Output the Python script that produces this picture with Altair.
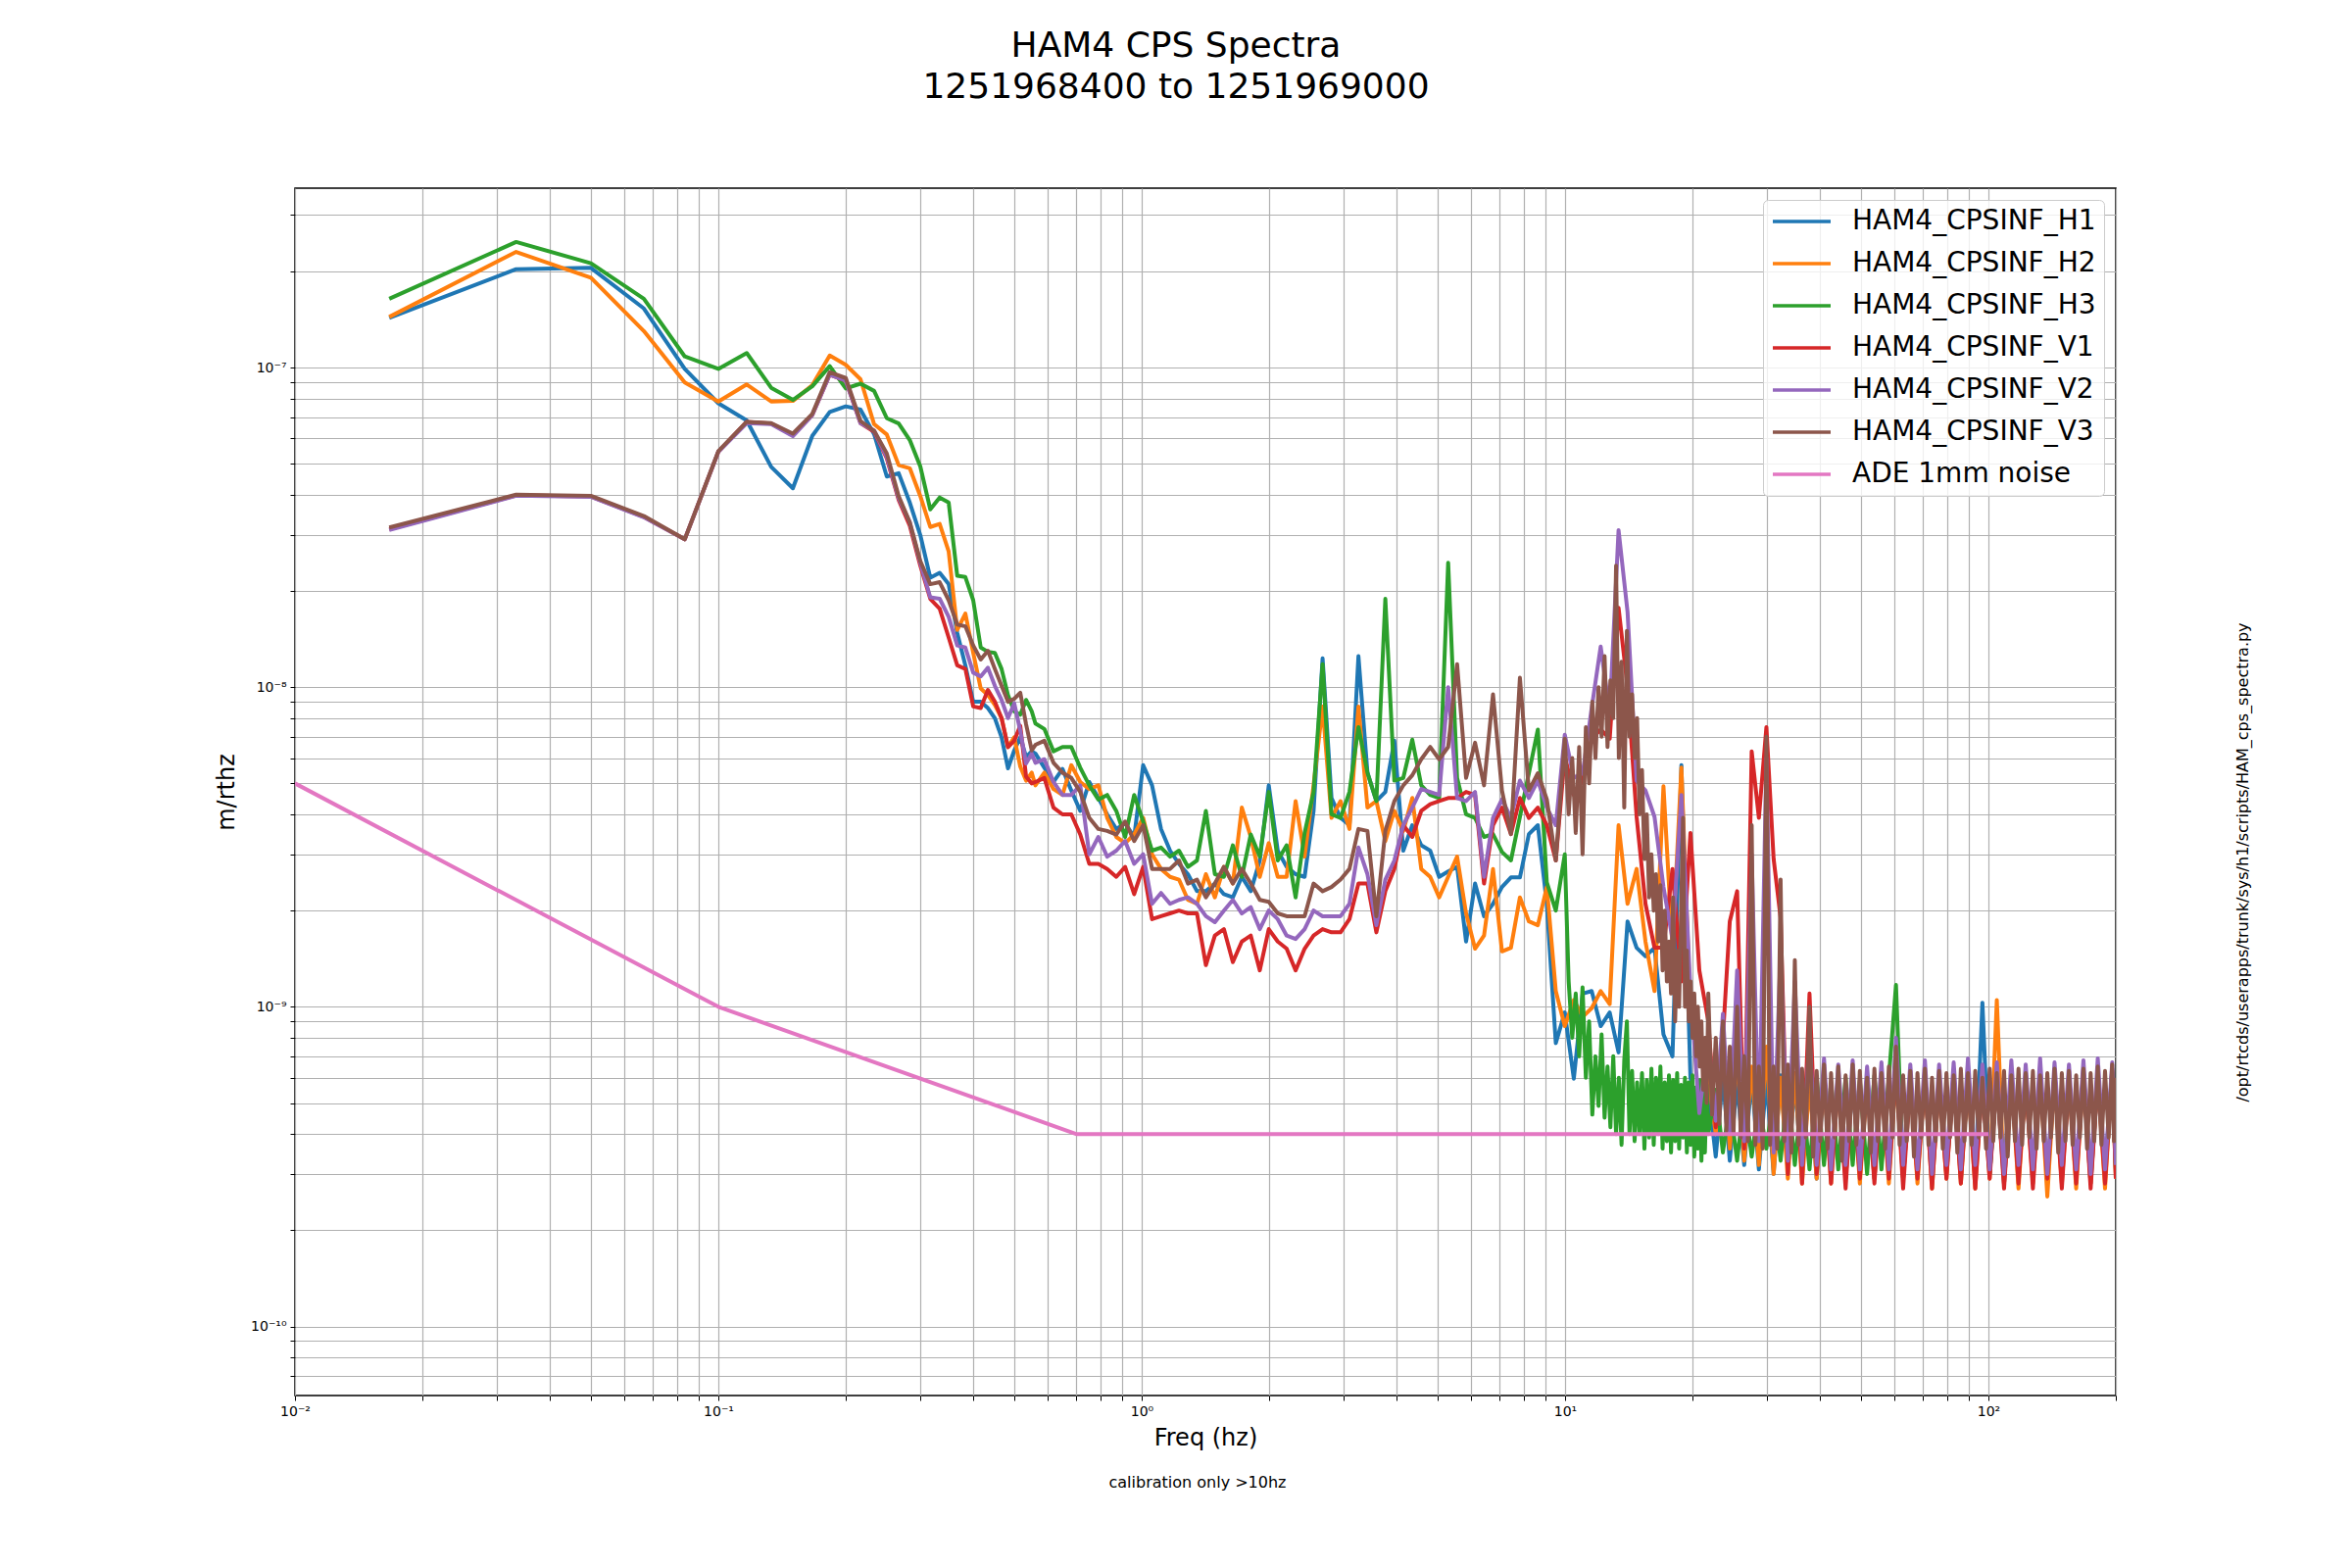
import altair as alt
import pandas as pd

TITLE_LINES = ["HAM4 CPS Spectra", "1251968400 to 1251969000"]
X_TITLE = "Freq (hz)"
Y_TITLE = "m/rthz"
CAL_NOTE = "calibration only >10hz"
SCRIPT_PATH = "/opt/rtcds/userapps/trunk/sys/h1/scripts/HAM_cps_spectra.py"

NAMES = ["HAM4_CPSINF_H1", "HAM4_CPSINF_H2", "HAM4_CPSINF_H3",
         "HAM4_CPSINF_V1", "HAM4_CPSINF_V2", "HAM4_CPSINF_V3", "ADE 1mm noise"]
COLORS = ["#1f77b4", "#ff7f0e", "#2ca02c", "#d62728", "#9467bd", "#8c564b", "#e377c2"]

# ---------------- frequency grids (Hz) ----------------
LOW_F = [0.0167, 0.0333, 0.05, 0.0667, 0.0833, 0.1, 0.1167, 0.1333, 0.15, 0.1667,
         0.1833, 0.2, 0.2167, 0.2333, 0.25, 0.2667, 0.2833, 0.3, 0.3167, 0.3333,
         0.35, 0.3667, 0.3833, 0.4, 0.4167, 0.4333, 0.45, 0.4667, 0.4833, 0.5,
         0.5167, 0.5333, 0.55]
MID_F = [0.561, 0.589, 0.619, 0.650, 0.682, 0.716, 0.752, 0.790, 0.829, 0.871,
         0.914, 0.960, 1.008, 1.058, 1.111, 1.167, 1.225, 1.286, 1.351, 1.418,
         1.489, 1.564, 1.642, 1.724, 1.810, 1.901, 1.996, 2.096, 2.200, 2.310,
         2.426, 2.547, 2.675, 2.808, 2.949, 3.096, 3.251, 3.414, 3.584, 3.763,
         3.952, 4.149, 4.357, 4.575, 4.803, 5.043, 5.296, 5.560, 5.838, 6.130,
         6.437, 6.759, 7.097, 7.451, 7.824, 8.215, 8.626, 9.057, 9.510, 9.986,
         10.49, 11.01, 11.56, 12.14, 12.75, 13.38, 14.05, 14.76, 15.49, 16.27,
         17.08, 17.94, 18.83, 19.78, 20.76]
# finer grid used for the dense green and brown bands between 10 and 21.6 Hz
FINE_F = [10.2, 10.4, 10.6, 10.8, 11.0, 11.2, 11.4, 11.6, 11.8, 12.0,
          12.2, 12.4, 12.6, 12.8, 13.0, 13.2, 13.4, 13.6, 13.8, 14.0,
          14.2, 14.4, 14.6, 14.8, 15.0, 15.2, 15.4, 15.6, 15.8, 16.0,
          16.2, 16.4, 16.6, 16.8, 17.0, 17.2, 17.4, 17.6, 17.8, 18.0,
          18.2, 18.4, 18.6, 18.8, 19.0, 19.2, 19.4, 19.6, 19.8, 20.0,
          20.2, 20.4, 20.6, 20.8, 21.0, 21.2, 21.4, 21.6]
HF_F = [21.8, 22.7, 23.6, 24.5, 25.5, 26.5, 27.6, 28.7, 29.9, 31.1,
        32.3, 33.6, 34.9, 36.3, 37.8, 39.3, 40.9, 42.5, 44.2, 46.0,
        47.8, 49.7, 51.7, 53.8, 55.9, 58.2, 60.5, 62.9, 65.4, 68.0,
        70.8, 73.6, 76.5, 79.6, 82.8, 86.1, 89.5, 93.1, 96.8, 100.7,
        104.7, 108.9, 113.3, 117.8, 122.5, 127.4, 132.5, 137.8, 143.3, 149.1,
        155.0, 161.2, 167.7, 174.4, 181.3, 188.6, 196.1, 200.0]
V3_HF_F = [21.8, 22.25, 22.7, 23.15, 23.6, 24.05, 24.5, 25.0, 25.5, 26.0,
           26.5, 27.05, 27.6, 28.15, 28.7, 29.3, 29.9, 30.5, 31.1, 31.7,
           32.3, 32.95, 33.6, 34.25, 34.9, 35.6, 36.3, 37.05, 37.8, 38.55,
           39.3, 40.1, 40.9, 41.7, 42.5, 43.35, 44.2, 45.1, 46.0, 46.9,
           47.8, 48.75, 49.7, 50.7, 51.7, 52.75, 53.8, 54.85, 55.9, 57.05,
           58.2, 59.35, 60.5, 61.7, 62.9, 64.15, 65.4, 66.7, 68.0, 69.4,
           70.8, 72.2, 73.6, 75.05, 76.5, 78.05, 79.6, 81.2, 82.8, 84.45,
           86.1, 87.8, 89.5, 91.3, 93.1, 94.95, 96.8, 98.75, 100.7, 102.7,
           104.7, 106.8, 108.9, 111.1, 113.3, 115.55, 117.8, 120.15, 122.5, 124.95,
           127.4, 129.95, 132.5, 135.15, 137.8, 140.55, 143.3, 146.2, 149.1, 152.05,
           155.0, 158.1, 161.2, 164.45, 167.7, 171.05, 174.4, 177.85, 181.3, 184.95,
           188.6, 192.35, 196.1, 198.0, 200.0]

# ---------------- H1 (blue) ----------------
H1_LOW = [1.43e-7, 2.03e-7, 2.05e-7, 1.53e-7, 9.9e-8, 7.73e-8, 6.83e-8, 4.89e-8, 4.19e-8, 6.11e-8,
          7.26e-8, 7.56e-8, 7.38e-8, 6.19e-8, 4.56e-8, 4.67e-8, 3.78e-8, 2.99e-8, 2.2e-8, 2.28e-8,
          2.1e-8, 1.48e-8, 1.17e-8, 9.0e-9, 9.0e-9, 8.6e-9, 8.0e-9, 6.97e-9, 5.57e-9, 6.34e-9,
          6.97e-9, 6.05e-9, 6.3e-9]
H1_MID = [6.2e-9, 5.6e-9, 5.05e-9, 5.55e-9, 4.75e-9, 4.1e-9, 5.05e-9, 4.5e-9, 4.0e-9, 3.6e-9,
          3.75e-9, 3.4e-9, 5.7e-9, 4.93e-9, 3.6e-9, 3.08e-9, 2.8e-9, 2.6e-9, 2.3e-9, 2.3e-9,
          2.43e-9, 2.25e-9, 2.2e-9, 2.55e-9, 2.3e-9, 2.87e-9, 4.93e-9, 3.08e-9, 2.74e-9, 2.6e-9,
          2.55e-9, 4.1e-9, 1.23e-8, 4.5e-9, 3.9e-9, 3.7e-9, 1.25e-8, 5.4e-9, 4.4e-9, 4.7e-9,
          6.8e-9, 3.08e-9, 3.7e-9, 3.2e-9, 3.08e-9, 2.55e-9, 2.65e-9, 2.74e-9, 1.6e-9, 2.43e-9,
          1.92e-9, 2.1e-9, 2.37e-9, 2.54e-9, 2.54e-9, 3.47e-9, 3.7e-9, 2.1e-9, 7.7e-10, 9.6e-10,
          5.96e-10, 1.1e-9, 1.12e-9, 8.7e-10, 9.6e-10, 7.2e-10, 1.85e-9, 1.53e-9, 1.44e-9, 1.53e-9,
          8.2e-10, 7.0e-10, 5.7e-9, 6.0e-10, 4.36e-10]
H1_HF = [5.5e-10, 3.4e-10, 6.0e-10, 3.3e-10, 5.8e-10, 3.2e-10, 6.0e-10, 3.1e-10, 5.9e-10, 3.0e-10,
         6.1e-10, 3.1e-10, 5.8e-10, 3.0e-10, 6.0e-10, 2.9e-10, 5.9e-10, 3.0e-10, 6.1e-10, 2.9e-10,
         5.8e-10, 3.0e-10, 6.0e-10, 2.9e-10, 6.1e-10, 3.0e-10, 6.2e-10, 2.9e-10, 5.9e-10, 3.0e-10,
         6.0e-10, 2.8e-10, 5.9e-10, 3.0e-10, 6.1e-10, 2.9e-10, 6.0e-10, 2.9e-10, 1.03e-9, 3.0e-10,
         6.0e-10, 2.8e-10, 6.1e-10, 3.0e-10, 5.9e-10, 2.9e-10, 6.2e-10, 2.8e-10, 6.0e-10, 3.0e-10,
         5.9e-10, 2.9e-10, 6.3e-10, 2.8e-10, 6.0e-10, 3.0e-10, 6.4e-10, 3.0e-10]

# ---------------- H2 (orange) ----------------
H2_LOW = [1.44e-7, 2.30e-7, 1.91e-7, 1.30e-7, 8.98e-8, 7.83e-8, 8.85e-8, 7.83e-8, 7.86e-8, 8.8e-8,
          1.09e-7, 1.02e-7, 9.19e-8, 6.65e-8, 6.17e-8, 4.95e-8, 4.84e-8, 3.96e-8, 3.17e-8, 3.24e-8,
          2.66e-8, 1.51e-8, 1.70e-8, 1.28e-8, 9.9e-9, 9.45e-9, 8.8e-9, 8.0e-9, 6.49e-9, 6.97e-9,
          5.64e-9, 5.1e-9, 5.4e-9]
H2_MID = [4.93e-9, 5.4e-9, 4.8e-9, 4.6e-9, 5.7e-9, 5.05e-9, 4.8e-9, 4.93e-9, 3.9e-9, 3.4e-9,
          3.25e-9, 3.46e-9, 3.9e-9, 3.0e-9, 2.7e-9, 2.55e-9, 2.5e-9, 2.16e-9, 2.1e-9, 2.6e-9,
          2.2e-9, 2.74e-9, 2.43e-9, 4.2e-9, 3.4e-9, 2.55e-9, 3.25e-9, 2.55e-9, 2.55e-9, 4.4e-9,
          2.95e-9, 4.93e-9, 8.7e-9, 3.9e-9, 4.4e-9, 3.6e-9, 8.7e-9, 4.2e-9, 4.4e-9, 3.3e-9,
          4.1e-9, 3.55e-9, 4.5e-9, 2.7e-9, 2.55e-9, 2.2e-9, 2.55e-9, 2.95e-9, 1.96e-9, 1.52e-9,
          1.67e-9, 2.7e-9, 1.49e-9, 1.53e-9, 2.2e-9, 1.85e-9, 1.8e-9, 2.37e-9, 1.12e-9, 8.7e-10,
          1.05e-9, 9.3e-10, 9.9e-10, 1.12e-9, 1.02e-9, 3.7e-9, 2.1e-9, 2.7e-9, 1.6e-9, 1.12e-9,
          4.9e-9, 1.53e-9, 5.6e-9, 9.6e-10, 7.0e-10]
H2_HF = [6.0e-10, 4.0e-10, 8.5e-10, 3.6e-10, 7.0e-10, 3.3e-10, 6.5e-10, 3.2e-10, 7.5e-10, 3.0e-10,
         6.0e-10, 2.9e-10, 6.2e-10, 2.8e-10, 5.8e-10, 2.9e-10, 6.0e-10, 2.8e-10, 5.9e-10, 2.9e-10,
         6.1e-10, 2.8e-10, 5.8e-10, 2.9e-10, 6.0e-10, 2.8e-10, 6.2e-10, 2.9e-10, 5.9e-10, 2.8e-10,
         6.0e-10, 2.7e-10, 5.8e-10, 2.9e-10, 6.1e-10, 2.8e-10, 5.9e-10, 2.7e-10, 6.0e-10, 2.9e-10,
         1.05e-9, 2.8e-10, 6.0e-10, 2.7e-10, 5.9e-10, 2.8e-10, 6.1e-10, 2.55e-10, 6.0e-10, 2.8e-10,
         5.9e-10, 2.7e-10, 6.2e-10, 2.8e-10, 6.0e-10, 2.7e-10, 6.3e-10, 2.9e-10]

# ---------------- H3 (green) ----------------
H3_LOW = [1.64e-7, 2.47e-7, 2.12e-7, 1.64e-7, 1.083e-7, 9.9e-8, 1.11e-7, 8.64e-8, 7.92e-8, 8.74e-8,
          1.01e-7, 8.6e-8, 8.9e-8, 8.45e-8, 6.94e-8, 6.68e-8, 5.93e-8, 4.9e-8, 3.6e-8, 3.92e-8,
          3.78e-8, 2.23e-8, 2.21e-8, 1.87e-8, 1.33e-8, 1.29e-8, 1.28e-8, 1.14e-8, 9.45e-9, 8.4e-9,
          8.2e-9, 9.12e-9, 8.4e-9]
H3_MID = [7.7e-9, 7.4e-9, 6.3e-9, 6.5e-9, 6.5e-9, 5.6e-9, 4.93e-9, 4.45e-9, 4.6e-9, 4.1e-9,
          3.4e-9, 4.6e-9, 3.8e-9, 3.08e-9, 3.15e-9, 2.95e-9, 3.08e-9, 2.74e-9, 2.87e-9, 4.1e-9,
          2.6e-9, 2.55e-9, 3.2e-9, 2.55e-9, 3.46e-9, 2.95e-9, 4.7e-9, 2.87e-9, 3.2e-9, 2.2e-9,
          3.5e-9, 4.7e-9, 1.18e-8, 4.0e-9, 3.9e-9, 4.7e-9, 7.5e-9, 5.4e-9, 4.4e-9, 1.89e-8,
          5.1e-9, 5.2e-9, 6.85e-9, 4.93e-9, 4.6e-9, 4.5e-9, 2.45e-8, 5.2e-9, 4.0e-9, 3.9e-9,
          3.4e-9, 3.47e-9, 3.05e-9, 2.87e-9, 3.93e-9, 5.38e-9, 7.37e-9, 2.45e-9, 2.0e-9, 3.0e-9]
H3_FINE = [1.2e-9, 8.0e-10, 1.1e-9, 7.0e-10, 1.15e-9, 6.0e-10, 9.0e-10, 4.6e-10, 7.0e-10, 4.9e-10,
           8.2e-10, 4.5e-10, 6.5e-10, 4.2e-10, 7.0e-10, 4.0e-10, 6.0e-10, 3.7e-10, 6.8e-10, 9.0e-10,
           4.0e-10, 6.3e-10, 3.8e-10, 5.8e-10, 4.0e-10, 6.2e-10, 3.6e-10, 5.9e-10, 3.9e-10, 6.4e-10,
           3.7e-10, 6.0e-10, 4.0e-10, 6.5e-10, 3.6e-10, 5.8e-10, 3.8e-10, 6.1e-10, 3.5e-10, 5.9e-10,
           3.8e-10, 6.2e-10, 3.6e-10, 5.7e-10, 3.9e-10, 6.0e-10, 3.5e-10, 5.8e-10, 3.7e-10, 6.1e-10,
           3.4e-10, 5.6e-10, 3.6e-10, 5.9e-10, 3.3e-10, 5.5e-10, 3.5e-10, 5.7e-10]
H3_HF = [4.0e-10, 5.5e-10, 3.5e-10, 5.0e-10, 3.3e-10, 5.2e-10, 3.4e-10, 5.0e-10, 3.6e-10, 5.3e-10,
         3.3e-10, 5.6e-10, 3.2e-10, 5.5e-10, 3.1e-10, 6.0e-10, 3.2e-10, 5.8e-10, 3.1e-10, 6.0e-10,
         3.2e-10, 5.9e-10, 3.0e-10, 6.1e-10, 3.1e-10, 6.0e-10, 1.17e-9, 3.0e-10, 5.9e-10, 3.1e-10,
         6.0e-10, 3.0e-10, 5.9e-10, 3.1e-10, 6.1e-10, 3.0e-10, 5.8e-10, 3.1e-10, 6.0e-10, 3.0e-10,
         5.9e-10, 3.1e-10, 6.1e-10, 3.0e-10, 5.8e-10, 3.1e-10, 6.0e-10, 3.0e-10, 6.2e-10, 3.1e-10,
         5.9e-10, 3.0e-10, 6.1e-10, 3.1e-10, 6.0e-10, 3.0e-10, 6.2e-10, 3.1e-10]

# ---------------- V1 (red) ----------------
V1_LOW = [3.12e-8, 3.98e-8, 3.95e-8, 3.41e-8, 2.9e-8, 5.45e-8, 6.76e-8, 6.68e-8, 6.15e-8, 7.1e-8,
          9.5e-8, 9.1e-8, 6.7e-8, 6.3e-8, 5.2e-8, 3.85e-8, 3.2e-8, 2.4e-8, 1.89e-8, 1.76e-8,
          1.43e-8, 1.17e-8, 1.14e-8, 8.7e-9, 8.6e-9, 9.8e-9, 9.0e-9, 8.0e-9, 6.49e-9, 6.8e-9,
          7.57e-9, 5.25e-9, 5.0e-9]
V1_MID = [5.05e-9, 5.2e-9, 4.2e-9, 4.0e-9, 4.0e-9, 3.46e-9, 2.8e-9, 2.8e-9, 2.7e-9, 2.55e-9,
          2.74e-9, 2.25e-9, 2.74e-9, 1.88e-9, 1.92e-9, 1.96e-9, 2.0e-9, 1.96e-9, 1.96e-9, 1.35e-9,
          1.67e-9, 1.75e-9, 1.38e-9, 1.6e-9, 1.67e-9, 1.3e-9, 1.75e-9, 1.6e-9, 1.52e-9, 1.3e-9,
          1.52e-9, 1.67e-9, 1.75e-9, 1.71e-9, 1.71e-9, 1.88e-9, 2.43e-9, 2.43e-9, 1.71e-9, 2.3e-9,
          2.7e-9, 3.7e-9, 3.4e-9, 4.1e-9, 4.3e-9, 4.4e-9, 4.5e-9, 4.5e-9, 4.7e-9, 4.6e-9,
          2.43e-9, 3.7e-9, 4.2e-9, 3.47e-9, 4.5e-9, 3.9e-9, 4.2e-9, 3.7e-9, 2.87e-9, 6.1e-9,
          4.6e-9, 5.1e-9, 6.9e-9, 7.37e-9, 6.9e-9, 1.77e-8, 1.0e-8, 3.93e-9, 2.1e-9, 1.53e-9,
          1.53e-9, 2.7e-9, 1.2e-9, 3.5e-9, 1.3e-9]
V1_HF = [9.0e-10, 4.2e-10, 8.0e-10, 1.85e-9, 2.3e-9, 3.6e-10, 6.3e-9, 3.9e-9, 7.5e-9, 2.9e-9,
         1.9e-9, 3.0e-10, 9.0e-10, 2.8e-10, 1.1e-9, 3.0e-10, 6.2e-10, 2.8e-10, 6.0e-10, 2.7e-10,
         6.1e-10, 2.9e-10, 5.9e-10, 2.8e-10, 6.0e-10, 2.9e-10, 6.4e-10, 2.7e-10, 5.8e-10, 2.9e-10,
         6.0e-10, 2.7e-10, 5.9e-10, 2.9e-10, 6.0e-10, 2.8e-10, 6.1e-10, 2.7e-10, 5.8e-10, 2.9e-10,
         6.0e-10, 2.7e-10, 6.1e-10, 2.8e-10, 5.9e-10, 2.7e-10, 6.0e-10, 2.9e-10, 6.1e-10, 2.7e-10,
         5.9e-10, 2.8e-10, 6.2e-10, 2.7e-10, 6.0e-10, 2.8e-10, 6.3e-10, 2.9e-10]

# ---------------- V2 (purple) ----------------
V2_LOW = [3.1e-8, 3.97e-8, 3.94e-8, 3.4e-8, 2.9e-8, 5.45e-8, 6.7e-8, 6.65e-8, 6.1e-8, 7.1e-8,
          9.5e-8, 9.1e-8, 6.7e-8, 6.35e-8, 5.25e-8, 3.9e-8, 3.28e-8, 2.45e-8, 1.91e-8, 1.89e-8,
          1.66e-8, 1.35e-8, 1.33e-8, 1.11e-8, 1.08e-8, 1.15e-8, 1.01e-8, 9.12e-9, 8.0e-9, 8.9e-9,
          7.3e-9, 5.77e-9, 6.2e-9]
V2_MID = [5.8e-9, 5.95e-9, 5.05e-9, 4.6e-9, 4.6e-9, 4.93e-9, 3.0e-9, 3.4e-9, 2.95e-9, 3.08e-9,
          3.3e-9, 2.8e-9, 3.0e-9, 2.1e-9, 2.27e-9, 2.1e-9, 2.16e-9, 2.2e-9, 2.1e-9, 1.92e-9,
          1.84e-9, 2.0e-9, 2.16e-9, 1.96e-9, 2.05e-9, 1.75e-9, 2.0e-9, 1.88e-9, 1.67e-9, 1.63e-9,
          1.75e-9, 2.0e-9, 1.92e-9, 1.92e-9, 1.92e-9, 2.1e-9, 3.15e-9, 2.6e-9, 1.8e-9, 2.5e-9,
          2.87e-9, 3.7e-9, 4.2e-9, 4.8e-9, 4.7e-9, 4.6e-9, 1.0e-8, 4.5e-9, 4.4e-9, 4.7e-9,
          2.55e-9, 3.9e-9, 4.46e-9, 3.9e-9, 5.1e-9, 4.5e-9, 5.1e-9, 4.2e-9, 3.7e-9, 7.1e-9,
          5.2e-9, 5.38e-9, 8.6e-9, 1.34e-8, 8.3e-9, 3.1e-8, 1.72e-8, 5.1e-9, 4.75e-9, 3.93e-9,
          2.37e-9, 1.63e-9, 4.6e-9, 1.12e-9, 4.65e-10]
V2_HF = [8.0e-10, 4.4e-10, 9.5e-10, 4.0e-10, 1.3e-9, 3.8e-10, 3.0e-9, 3.8e-10, 6.0e-9, 3.5e-10,
         1.5e-9, 3.3e-10, 1.2e-9, 3.2e-10, 8.0e-10, 3.2e-10, 6.9e-10, 3.1e-10, 6.6e-10, 3.2e-10,
         6.8e-10, 3.1e-10, 6.5e-10, 3.2e-10, 6.7e-10, 3.1e-10, 8.0e-10, 3.2e-10, 6.6e-10, 3.1e-10,
         6.8e-10, 3.0e-10, 6.6e-10, 3.2e-10, 6.7e-10, 3.1e-10, 6.9e-10, 3.2e-10, 6.6e-10, 3.1e-10,
         6.7e-10, 3.0e-10, 6.8e-10, 3.2e-10, 6.6e-10, 3.1e-10, 6.9e-10, 3.0e-10, 6.7e-10, 3.2e-10,
         6.6e-10, 3.1e-10, 6.8e-10, 3.0e-10, 6.9e-10, 3.1e-10, 6.7e-10, 3.2e-10]

# ---------------- V3 (brown) ----------------
V3_LOW = [3.16e-8, 4.0e-8, 3.97e-8, 3.43e-8, 2.9e-8, 5.47e-8, 6.76e-8, 6.7e-8, 6.21e-8, 7.16e-8,
          9.67e-8, 9.27e-8, 6.8e-8, 6.34e-8, 5.38e-8, 3.96e-8, 3.28e-8, 2.48e-8, 2.1e-8, 2.13e-8,
          1.87e-8, 1.57e-8, 1.55e-8, 1.35e-8, 1.22e-8, 1.3e-8, 1.14e-8, 1.01e-8, 9.0e-9, 9.2e-9,
          9.6e-9, 7.65e-9, 6.34e-9]
V3_MID = [6.6e-9, 6.8e-9, 5.8e-9, 5.4e-9, 5.2e-9, 4.7e-9, 3.9e-9, 3.6e-9, 3.55e-9, 3.46e-9,
          3.8e-9, 3.3e-9, 3.7e-9, 2.7e-9, 2.7e-9, 2.7e-9, 2.87e-9, 2.43e-9, 2.5e-9, 2.2e-9,
          2.43e-9, 2.74e-9, 2.43e-9, 2.7e-9, 2.43e-9, 2.16e-9, 2.13e-9, 1.96e-9, 1.92e-9, 1.92e-9,
          1.92e-9, 2.43e-9, 2.3e-9, 2.37e-9, 2.5e-9, 2.7e-9, 3.6e-9, 3.55e-9, 1.92e-9, 3.55e-9,
          4.4e-9, 4.93e-9, 5.3e-9, 5.95e-9, 6.5e-9, 5.95e-9, 6.5e-9, 1.18e-8, 5.2e-9, 6.7e-9,
          4.93e-9, 9.5e-9, 4.75e-9, 3.47e-9, 1.07e-8, 4.75e-9, 5.38e-9, 4.46e-9, 2.87e-9, 6.9e-9]
V3_FINE = [4.0e-9, 6.0e-9, 3.5e-9, 6.5e-9, 3.0e-9, 7.5e-9, 5.0e-9, 9.0e-9, 6.0e-9, 1.0e-8,
           7.0e-9, 1.25e-8, 6.5e-9, 1.05e-8, 8.0e-9, 2.4e-8, 6.0e-9, 1.2e-8, 4.2e-9, 1.5e-8,
           7.0e-9, 9.5e-9, 6.0e-9, 8.0e-9, 4.0e-9, 5.5e-9, 2.9e-9, 4.0e-9, 2.2e-9, 3.0e-9,
           2.0e-9, 2.6e-9, 1.6e-9, 2.4e-9, 1.3e-9, 2.0e-9, 1.2e-9, 1.6e-9, 1.1e-9, 2.2e-9,
           9.0e-10, 1.5e-9, 1.0e-9, 2.0e-9, 3.9e-9, 1.0e-9, 1.5e-9, 9.0e-10, 1.2e-9, 8.0e-10,
           1.1e-9, 7.0e-10, 1.0e-9, 6.5e-10, 9.0e-10, 5.5e-10, 8.0e-10, 5.0e-10]
V3_HF = [1.1e-9, 4.6e-10, 8.0e-10, 4.3e-10, 9.0e-10, 4.1e-10, 7.5e-10, 4.0e-10, 1.0e-9, 3.9e-10,
         7.0e-10, 3.8e-10, 3.7e-9, 3.7e-10, 6.5e-10, 3.6e-10, 7.0e-9, 3.7e-10, 6.5e-10, 3.6e-10,
         2.5e-9, 3.8e-10, 6.6e-10, 3.5e-10, 1.4e-9, 3.7e-10, 6.4e-10, 3.9e-10, 1.0e-9, 3.4e-10,
         6.3e-10, 3.8e-10, 6.6e-10, 3.6e-10, 6.2e-10, 3.9e-10, 6.5e-10, 3.3e-10, 6.1e-10, 3.8e-10,
         6.6e-10, 3.7e-10, 6.3e-10, 3.9e-10, 6.0e-10, 3.5e-10, 6.4e-10, 3.8e-10, 6.2e-10, 3.6e-10,
         6.5e-10, 3.9e-10, 7.5e-10, 3.7e-10, 6.1e-10, 3.8e-10, 6.3e-10, 3.4e-10, 6.2e-10, 3.9e-10,
         6.4e-10, 3.7e-10, 6.0e-10, 3.8e-10, 6.3e-10, 3.6e-10, 6.2e-10, 3.9e-10, 6.1e-10, 3.5e-10,
         6.4e-10, 3.8e-10, 6.2e-10, 3.7e-10, 6.3e-10, 3.9e-10, 6.0e-10, 3.6e-10, 6.4e-10, 3.8e-10,
         6.2e-10, 3.9e-10, 6.3e-10, 3.4e-10, 6.1e-10, 3.8e-10, 6.4e-10, 3.7e-10, 6.2e-10, 3.9e-10,
         6.3e-10, 3.6e-10, 6.1e-10, 3.8e-10, 6.2e-10, 3.9e-10, 6.4e-10, 3.5e-10, 6.2e-10, 3.8e-10,
         6.3e-10, 3.7e-10, 6.1e-10, 3.9e-10, 6.4e-10, 3.6e-10, 6.2e-10, 3.8e-10, 6.5e-10, 3.7e-10,
         6.3e-10, 3.9e-10, 6.6e-10, 3.8e-10, 6.0e-10]

# ---------------- ADE 1mm noise reference ----------------
ADE_F = [0.01, 0.1, 0.7, 100.0]
ADE_V = [5.0e-9, 1.0e-9, 4.0e-10, 4.0e-10]

# ---------------- axis ticks ----------------
X_TICKS = [0.01, 0.02, 0.03, 0.04, 0.05, 0.06, 0.07, 0.08, 0.09,
           0.1, 0.2, 0.3, 0.4, 0.5, 0.6, 0.7, 0.8, 0.9,
           1, 2, 3, 4, 5, 6, 7, 8, 9,
           10, 20, 30, 40, 50, 60, 70, 80, 90, 100, 200]
Y_TICKS = [7e-11, 8e-11, 9e-11,
           1e-10, 2e-10, 3e-10, 4e-10, 5e-10, 6e-10, 7e-10, 8e-10, 9e-10,
           1e-9, 2e-9, 3e-9, 4e-9, 5e-9, 6e-9, 7e-9, 8e-9, 9e-9,
           1e-8, 2e-8, 3e-8, 4e-8, 5e-8, 6e-8, 7e-8, 8e-8, 9e-8,
           1e-7, 2e-7, 3e-7]

series_parts = [
    (NAMES[0], LOW_F + MID_F + HF_F, H1_LOW + H1_MID + H1_HF),
    (NAMES[1], LOW_F + MID_F + HF_F, H2_LOW + H2_MID + H2_HF),
    (NAMES[2], LOW_F + MID_F[:60] + FINE_F + HF_F, H3_LOW + H3_MID + H3_FINE + H3_HF),
    (NAMES[3], LOW_F + MID_F + HF_F, V1_LOW + V1_MID + V1_HF),
    (NAMES[4], LOW_F + MID_F + HF_F, V2_LOW + V2_MID + V2_HF),
    (NAMES[5], LOW_F + MID_F[:60] + FINE_F + V3_HF_F, V3_LOW + V3_MID + V3_FINE + V3_HF),
]
rows = []
for name, fs, vs in series_parts:
    assert len(fs) == len(vs), (name, len(fs), len(vs))
    for f, v in zip(fs, vs):
        rows.append({"series": name, "freq": f, "asd": v})
spec_df = pd.DataFrame(rows)
ade_df = pd.DataFrame({"series": NAMES[6], "freq": ADE_F, "asd": ADE_V})

x_label = ("datum.value == 0.01 ? '10\u207b\u00b2' : datum.value == 0.1 ? '10\u207b\u00b9' : "
           "datum.value == 1 ? '10\u2070' : datum.value == 10 ? '10\u00b9' : "
           "datum.value == 100 ? '10\u00b2' : ''")
y_label = ("datum.value == 1e-7 ? '10\u207b\u2077' : datum.value == 1e-8 ? '10\u207b\u2078' : "
           "datum.value == 1e-9 ? '10\u207b\u2079' : datum.value == 1e-10 ? '10\u207b\u00b9\u2070' : ''")

x_enc = alt.X("freq:Q",
              scale=alt.Scale(type="log", domain=[0.01, 200], nice=False),
              axis=alt.Axis(values=X_TICKS, labelExpr=x_label, title=X_TITLE,
                            titlePadding=8, labelPadding=4))
y_enc = alt.Y("asd:Q",
              scale=alt.Scale(type="log", domain=[6.08e-11, 3.64e-7], nice=False),
              axis=alt.Axis(values=Y_TICKS, labelExpr=y_label, title=Y_TITLE,
                            titlePadding=12, labelPadding=4))
color_enc = alt.Color("series:N",
                      scale=alt.Scale(domain=NAMES, range=COLORS),
                      legend=alt.Legend(title=None))

LINE_W = 4.0
spectra = alt.Chart(spec_df).mark_line(strokeWidth=LINE_W, strokeJoin="round", clip=True).encode(
    x=x_enc, y=y_enc, color=color_enc)
ade = alt.Chart(ade_df).mark_line(strokeWidth=LINE_W, strokeJoin="round", clip=True).encode(
    x=x_enc, y=y_enc, color=color_enc)

cal = alt.Chart(pd.DataFrame({"t": [CAL_NOTE]})).mark_text(
    font="DejaVu Sans", fontSize=16, color="black", align="center", baseline="middle"
).encode(x=alt.value(921), y=alt.value(1321), text="t:N")
path_txt = alt.Chart(pd.DataFrame({"t": [SCRIPT_PATH]})).mark_text(
    font="DejaVu Sans", fontSize=16, color="black", align="center", baseline="middle", angle=270
).encode(x=alt.value(1988), y=alt.value(688), text="t:N")

chart = alt.layer(spectra, ade, cal, path_txt).properties(
    width=1858, height=1232,
    title=alt.TitleParams(text=TITLE_LINES, fontSize=36, fontWeight="normal", font="DejaVu Sans",
                          anchor="middle", frame="group", dx=-30, offset=84, lineHeight=42,
                          color="black"),
    autosize=alt.AutoSizeParams(type="none"),
    padding={"left": 293, "top": 184, "right": 233, "bottom": 168},
).configure(font="DejaVu Sans", background="white").configure_view(
    stroke="black", strokeWidth=1.5
).configure_axis(
    grid=True, gridColor="#b0b0b0", gridWidth=1.2, domain=False,
    ticks=True, tickColor="black", tickSize=5, tickWidth=1,
    labelFont="DejaVu Sans", labelFontSize=14, labelColor="black",
    labelOverlap=False, labelBound=False, labelFlush=False,
    titleFont="DejaVu Sans", titleFontSize=24, titleFontWeight="normal", titleColor="black"
).configure_legend(
    orient="top-right", offset=12, padding=8,
    fillColor="rgba(255,255,255,0.8)", strokeColor="#cccccc", cornerRadius=5,
    labelFont="DejaVu Sans", labelFontSize=28, labelColor="black", labelLimit=500,
    labelOffset=20, symbolType="stroke", symbolSize=3481, symbolStrokeWidth=3.7,
    clipHeight=28, rowPadding=15
)

chart.save("out.html", embed_options={"renderer": "svg", "actions": False})
